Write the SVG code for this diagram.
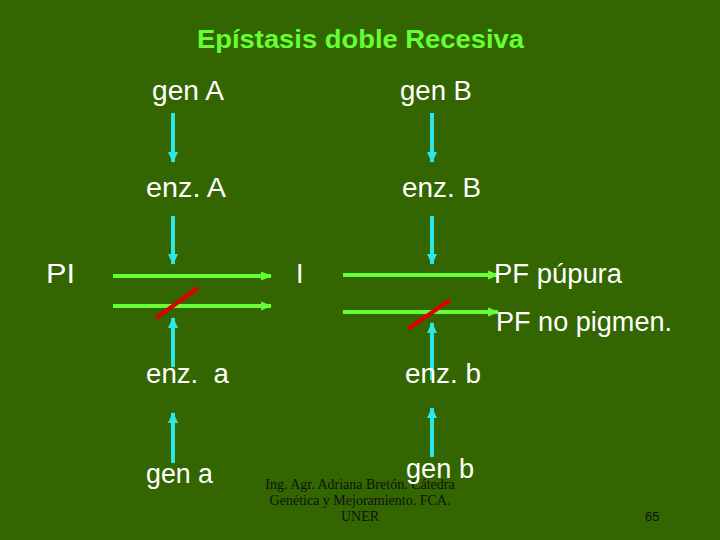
<svg xmlns="http://www.w3.org/2000/svg" width="720" height="540" viewBox="0 0 720 540">
<defs>
<style>
.bg{fill:#336600}
.t{font-family:"Liberation Sans","DejaVu Sans",sans-serif;font-size:27px;fill:#ffffff}
.title{font-family:"Liberation Sans","DejaVu Sans",sans-serif;font-size:26px;font-weight:bold;fill:#66ff33}
.foot{font-family:"Liberation Serif","Times New Roman",serif;font-size:14px;fill:#111111;text-anchor:middle}
.cy{stroke:#2ee6e6;stroke-width:4;fill:none}
.gr{stroke:#66ff33;stroke-width:4;fill:none}
.rd{stroke:#dd0000;stroke-width:4;fill:none}
</style>
<marker id="ac" markerUnits="userSpaceOnUse" markerWidth="12" markerHeight="12" viewBox="0 0 12 12" refX="10" refY="6" orient="auto">
<path d="M0,1 L11,6 L0,11 Z" fill="#2ee6e6"/>
</marker>
<marker id="ag" markerUnits="userSpaceOnUse" markerWidth="12" markerHeight="12" viewBox="0 0 12 12" refX="10" refY="6" orient="auto">
<path d="M0,1.5 L11,6 L0,10.5 Z" fill="#66ff33"/>
</marker>
</defs>
<rect class="bg" x="0" y="0" width="720" height="540"/>
<text class="title" x="197" y="48" textLength="327" lengthAdjust="spacingAndGlyphs">Epístasis doble Recesiva</text>

<g id="footer">
<text class="foot" x="360" y="489">Ing. Agr. Adriana Bretón. Cátedra</text>
<text class="foot" x="360" y="505">Genética y Mejoramiento. FCA.</text>
<text class="foot" x="360" y="521">UNER</text>
<text x="645" y="521" style="font-family:'Liberation Sans',sans-serif;font-size:13px;fill:#111111">65</text>
</g>

<g id="connectors">
<line class="cy" x1="173" y1="113" x2="173" y2="162" marker-end="url(#ac)"/>
<line class="cy" x1="173" y1="216" x2="173" y2="264" marker-end="url(#ac)"/>
<line class="cy" x1="432" y1="113" x2="432" y2="162" marker-end="url(#ac)"/>
<line class="cy" x1="432" y1="216" x2="432" y2="264" marker-end="url(#ac)"/>
<line class="cy" x1="173" y1="367" x2="173" y2="318" marker-end="url(#ac)"/>
<line class="cy" x1="173" y1="463" x2="173" y2="413" marker-end="url(#ac)"/>
<line class="cy" x1="432" y1="380" x2="432" y2="323" marker-end="url(#ac)"/>
<line class="cy" x1="432" y1="457" x2="432" y2="408" marker-end="url(#ac)"/>
<line class="gr" x1="113" y1="276" x2="271" y2="276" marker-end="url(#ag)"/>
<line class="gr" x1="113" y1="306" x2="271" y2="306" marker-end="url(#ag)"/>
<line class="gr" x1="343" y1="275" x2="498" y2="275" marker-end="url(#ag)"/>
<line class="gr" x1="343" y1="312" x2="498" y2="312" marker-end="url(#ag)"/>
<line class="rd" x1="156" y1="318" x2="198" y2="288"/>
<line class="rd" x1="408" y1="329" x2="450" y2="300"/>
</g>

<g id="genA"><text class="t" x="152" y="100" textLength="72" lengthAdjust="spacingAndGlyphs">gen A</text></g>
<g id="genB"><text class="t" x="400" y="100" textLength="72" lengthAdjust="spacingAndGlyphs">gen B</text></g>
<g id="enzA"><text class="t" x="146" y="197" textLength="80" lengthAdjust="spacingAndGlyphs">enz. A</text></g>
<g id="enzB"><text class="t" x="402" y="197" textLength="79" lengthAdjust="spacingAndGlyphs">enz. B</text></g>
<g id="PI"><text class="t" x="46" y="283" textLength="29" lengthAdjust="spacingAndGlyphs">PI</text></g>
<g id="I"><text class="t" x="296" y="283">I</text></g>
<g id="PFpurpura"><text class="t" x="494" y="283" textLength="128" lengthAdjust="spacingAndGlyphs">PF púpura</text></g>
<g id="PFnopigmen"><text class="t" x="496" y="331" textLength="176" lengthAdjust="spacingAndGlyphs">PF no pigmen.</text></g>
<g id="enza"><text class="t" x="146" y="383" textLength="83" lengthAdjust="spacingAndGlyphs" xml:space="preserve">enz.  a</text></g>
<g id="enzb"><text class="t" x="405" y="383" textLength="76" lengthAdjust="spacingAndGlyphs">enz. b</text></g>
<g id="gena"><text class="t" x="146" y="483" textLength="67" lengthAdjust="spacingAndGlyphs">gen a</text></g>
<g id="genb"><text class="t" x="406" y="478" textLength="68" lengthAdjust="spacingAndGlyphs">gen b</text></g>
</svg>
